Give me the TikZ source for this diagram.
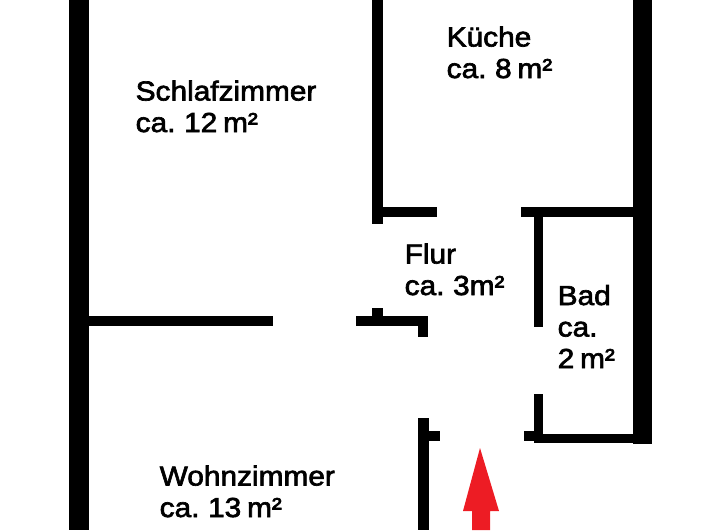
\documentclass[tikz,border=0pt]{standalone}
\usepackage{fontspec}
\setmainfont{Liberation Sans}[FakeBold=2.4,FakeStretch=1.085,WordSpace=0.7]
\tikzset{
  wall/.style={fill=black,draw=none},
  room/.style={anchor=base west,align=left,inner sep=0pt,font=\fontsize{27.5}{31.5}\selectfont},
}
\begin{document}
\begin{tikzpicture}[x=1pt,y=-1pt]
\useasboundingbox (0,0) rectangle (720,530);
% outer walls
\fill[wall] (69,0) rectangle (89,530);
\fill[wall] (633,0) rectangle (652,444);
% kitchen wall
\fill[wall] (372,0) rectangle (383,224);
\fill[wall] (383,207) rectangle (437,217);
\fill[wall] (521,207) rectangle (633,217);
% bath
\fill[wall] (534,217) rectangle (543,327);
\fill[wall] (534,394) rectangle (543,443);
\fill[wall] (524,431) rectangle (534,441);
\fill[wall] (534,434) rectangle (633,443);
% bedroom / living room
\fill[wall] (89,316) rectangle (273,326);
\fill[wall] (356,316) rectangle (428,326);
\fill[wall] (372,308) rectangle (383,316);
\fill[wall] (418,326) rectangle (428,337);
% hall entrance
\fill[wall] (418,418) rectangle (429,530);
\fill[wall] (429,431) rectangle (440,441);
% entrance arrow
\fill[fill={rgb,255:red,237;green,28;blue,36}] (480,448) -- (499,511) -- (490,511) -- (490,530) -- (472,530) -- (472,511) -- (463,511) -- cycle;
% labels
\node[room] (schlaf) at (135.5,132) {Schlafzimmer\\ca. 12 m²};
\node[room] (kueche) at (446.5,78) {Küche\\ca. 8 m²};
\node[room] (flur) at (404.5,295) {Flur\\ca. 3m²};
\node[room] (bad) at (557.5,368) {Bad\\ca.\\2 m²};
\node[room] (wohn) at (159.5,517) {Wohnzimmer\\ca. 13 m²};
\end{tikzpicture}
\end{document}
